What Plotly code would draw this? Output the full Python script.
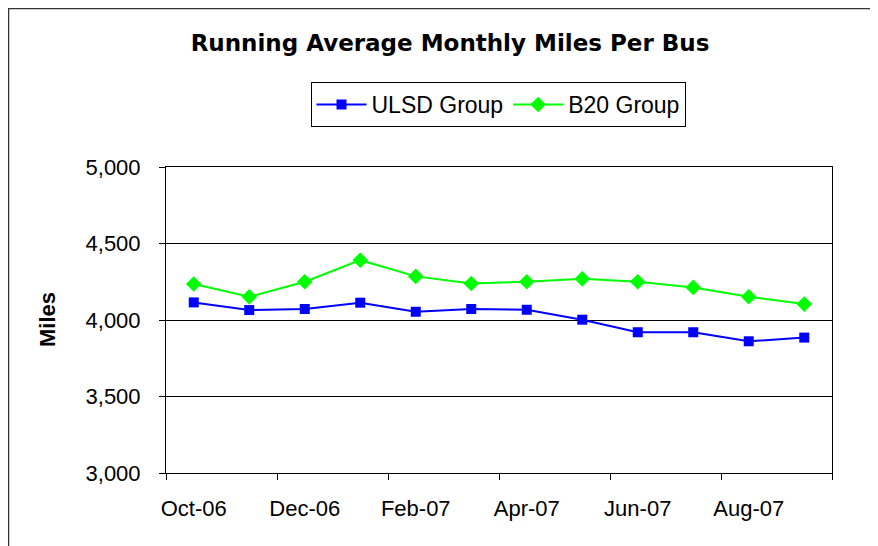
import plotly.graph_objects as go

months = ["Oct-06", "Nov-06", "Dec-06", "Jan-07", "Feb-07", "Mar-07",
          "Apr-07", "May-07", "Jun-07", "Jul-07", "Aug-07", "Sep-07"]
ulsd = [4115, 4065, 4072, 4113, 4054, 4072, 4067, 4002, 3920, 3920, 3861, 3885]
b20 = [4235, 4152, 4250, 4391, 4285, 4239, 4250, 4269, 4250, 4213, 4152, 4104]
y_ticks = [3000, 3500, 4000, 4500, 5000]

# the page body adds an 8px margin, so work in screen pixels minus that
OFF = 8
W, H = 878 - OFF, 546 - OFF
L, R, T, B = 166 - OFF, 832 - OFF, 167 - OFF, 473 - OFF
pw, ph = R - L, B - T

def px_x(x):
    return (x - OFF - L) / pw

def px_y(y):
    return (B - (y - OFF)) / ph

idx = list(range(len(months)))

fig = go.Figure()
fig.add_trace(go.Scatter(
    x=idx, y=ulsd, name="ULSD Group", mode="lines+markers",
    line=dict(color="#0000FF", width=2),
    marker=dict(symbol="square", size=10, color="#0000FF"),
))
fig.add_trace(go.Scatter(
    x=idx, y=b20, name="B20 Group", mode="lines+markers",
    line=dict(color="#00FF00", width=2),
    marker=dict(symbol="diamond", size=12, color="#00FF00"),
))

font = "Liberation Sans, Arial, sans-serif"
bold_font = "DejaVu Sans, Liberation Sans, sans-serif"

fig.update_layout(
    width=W, height=H,
    margin=dict(l=L, r=W - R, t=T, b=H - B, autoexpand=False),
    paper_bgcolor="white", plot_bgcolor="white",
    font=dict(family=font, size=22, color="black"),
    title=dict(text="<b>Running Average Monthly Miles Per Bus</b>",
               x=(450 - OFF) / W, xanchor="center", xref="container",
               y=1 - (43 - OFF) / H, yanchor="middle",
               font=dict(family=bold_font, size=23, color="black")),
    showlegend=True,
    legend=dict(orientation="h", x=px_x(498), xanchor="center",
                y=px_y(82), yanchor="top",
                bordercolor="black", borderwidth=1, bgcolor="white",
                font=dict(size=23), itemwidth=50, tracegroupgap=0),
)

fig.update_xaxes(
    range=[-0.5, len(months) - 0.5],
    tickmode="array", tickvals=idx[::2], ticktext=months[::2],
    ticks="", showgrid=False, zeroline=False, ticklabelstandoff=16,
    showline=True, linecolor="black", linewidth=1, mirror=True,
    tickfont=dict(size=22),
    minor=dict(tickmode="array", tickvals=[i - 0.5 for i in idx[::2]] + [len(months) - 0.5],
               ticks="outside", ticklen=6, tickcolor="black", showgrid=False),
)
fig.update_yaxes(
    range=[3000, 5000],
    tickmode="array", tickvals=y_ticks,
    ticktext=[f"{v:,}" for v in y_ticks],
    ticks="outside", ticklen=6, tickcolor="black", ticklabelstandoff=14,
    showgrid=True, gridcolor="black", gridwidth=1, zeroline=False,
    showline=True, linecolor="black", linewidth=1, mirror=True,
    tickfont=dict(size=22),
)

fig.add_annotation(
    text="<b>Miles</b>", textangle=-90, showarrow=False,
    xref="paper", yref="paper", x=px_x(47), y=px_y(320),
    xanchor="center", yanchor="middle",
    font=dict(family=font, size=22, color="black"),
)

# outer chart frame
fig.add_shape(type="rect", xref="paper", yref="paper",
              x0=px_x(8.5), x1=px_x(884), y0=px_y(552), y1=px_y(8.5),
              line=dict(color="#333333", width=1.5))

fig.write_html("out.html")
